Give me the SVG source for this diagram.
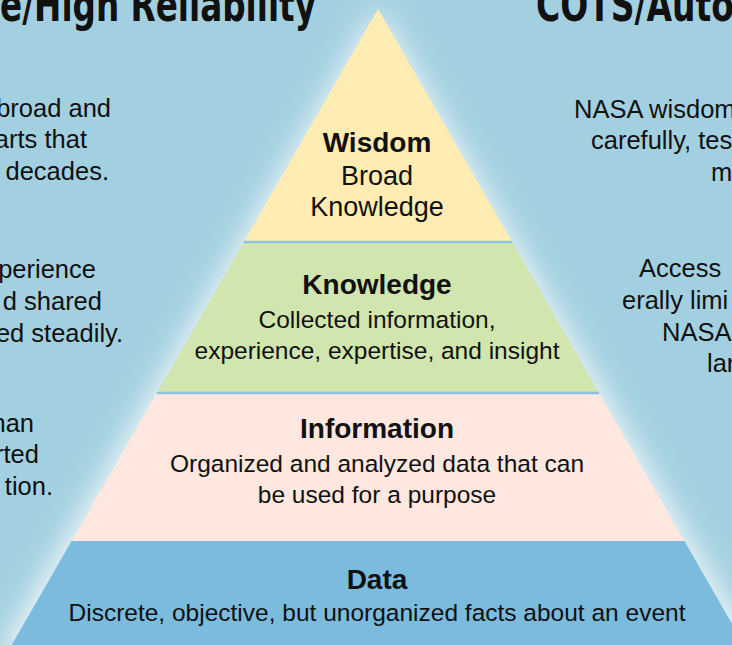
<svg xmlns="http://www.w3.org/2000/svg" width="732" height="645" viewBox="0 0 732 645">
  <style>
    .t { font-family: "Liberation Sans", Arial, sans-serif; font-size: 24.5px; fill: #111; }
    .s { font-family: "Liberation Sans", Arial, sans-serif; font-size: 25.5px; fill: #111; }
    .w { font-family: "Liberation Sans", Arial, sans-serif; font-size: 27px; fill: #111; }
    .b { font-family: "Liberation Sans", Arial, sans-serif; font-size: 28px; font-weight: bold; fill: #111; }
    .h { font-family: "Liberation Sans Narrow", "DejaVu Sans Condensed", "Liberation Sans", sans-serif; font-size: 46px; font-weight: bold; fill: #111; }
    .sep { stroke: #8cc2e2; stroke-width: 2.5; fill: none; }
  </style>
  <defs>
    <filter id="glow" x="-20%" y="-20%" width="140%" height="140%">
      <feGaussianBlur stdDeviation="15"/>
    </filter>
  </defs>
  <rect x="0" y="0" width="732" height="645" fill="#a3d0e0"/>
  <polygon points="378,9 -4,660 760,660" fill="#ffffff" opacity="0.85" filter="url(#glow)"/>

  <g id="headlines">
    <text class="h" x="0" y="21" textLength="316" lengthAdjust="spacingAndGlyphs">e/High Reliability</text>
    <text class="h" x="536" y="21" textLength="198" lengthAdjust="spacingAndGlyphs">COTS/Auto</text>
  </g>

  <g id="left-notes">
    <text class="s" text-anchor="end" x="111" y="117">broad and</text>
    <text class="s" text-anchor="end" x="87" y="148">arts that</text>
    <text class="s" text-anchor="end" x="109" y="180">decades.</text>
    <text class="s" text-anchor="end" x="96" y="278">perience</text>
    <text class="s" text-anchor="end" x="102" y="310">d shared</text>
    <text class="s" text-anchor="end" x="123" y="342">ed steadily.</text>
    <text class="s" text-anchor="end" x="34" y="432">han</text>
    <text class="s" text-anchor="end" x="39" y="463">rted</text>
    <text class="s" text-anchor="end" x="53" y="495">tion.</text>
  </g>

  <g id="right-notes">
    <text class="s" x="574" y="118">NASA wisdom</text>
    <text class="s" x="591" y="149">carefully, tes</text>
    <text class="s" x="711" y="181">m</text>
    <text class="s" x="639" y="277">Access</text>
    <text class="s" x="622" y="309">erally limi</text>
    <text class="s" x="662" y="341">NASA</text>
    <text class="s" x="707" y="372">lar</text>
  </g>

  <g id="data">
    <polygon points="71.6,541 684.4,541 744.3,645 11.7,645" fill="#7bbbde"/>
    <text class="b" text-anchor="middle" x="377" y="589">Data</text>
    <text class="t" text-anchor="middle" x="377" y="621">Discrete, objective, but unorganized facts about an event</text>
  </g>
  <g id="information">
    <polygon points="156.8,393 599.2,393 684.4,541 71.6,541" fill="#fde7de"/>
    <text class="b" text-anchor="middle" x="377" y="438">Information</text>
    <text class="t" text-anchor="middle" x="377" y="472">Organized and analyzed data that can</text>
    <text class="t" text-anchor="middle" x="377" y="503">be used for a purpose</text>
  </g>
  <g id="knowledge">
    <polygon points="243.8,242 512.2,242 599.2,393 156.8,393" fill="#d1e5ae"/>
    <text class="b" text-anchor="middle" x="377" y="294">Knowledge</text>
    <text class="t" text-anchor="middle" x="377" y="328">Collected information,</text>
    <text class="t" text-anchor="middle" x="377" y="359">experience, expertise, and insight</text>
  </g>
  <g id="wisdom">
    <polygon points="378,9 512.2,242 243.8,242" fill="#ffecb3"/>
    <text class="b" text-anchor="middle" x="377" y="152">Wisdom</text>
    <text class="w" text-anchor="middle" x="377" y="185">Broad</text>
    <text class="w" text-anchor="middle" x="377" y="216">Knowledge</text>
  </g>

  <g id="connectors">
    <line class="sep" x1="243.8" y1="242" x2="512.2" y2="242"/>
    <line class="sep" x1="156.8" y1="393" x2="599.2" y2="393"/>
  </g>
</svg>
